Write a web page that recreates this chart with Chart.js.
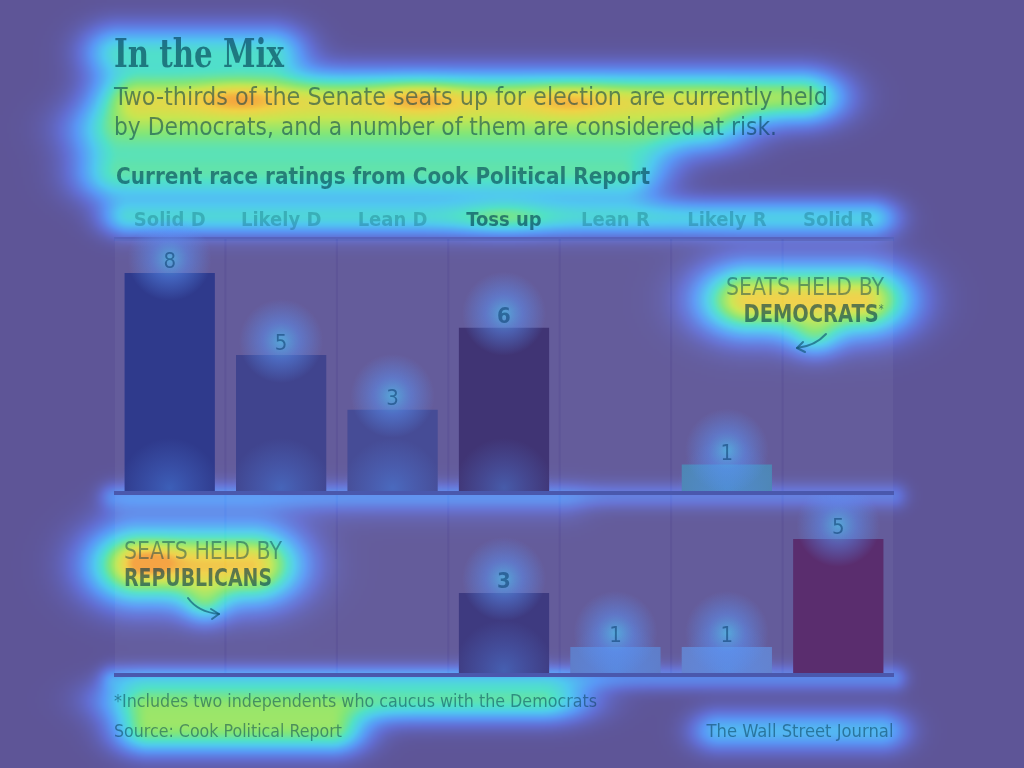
<!DOCTYPE html>
<html>
<head>
<meta charset="utf-8">
<script src="https://cdn.jsdelivr.net/npm/chart.js@4.4.1/dist/chart.umd.min.js"></script>
<style>
  html,body{margin:0;padding:0;background:#5e5597;overflow:hidden;}
  #stage{position:relative;width:1024px;height:768px;}
  #heat{position:absolute;left:0;top:0;z-index:0;}
  .t{position:absolute;white-space:nowrap;line-height:1;z-index:2;
     font-family:"DejaVu Sans Condensed","DejaVu Sans",sans-serif;font-stretch:condensed;
     color:rgba(0,55,75,0.55);transform-origin:left center;}
  .r{transform-origin:right center;}
  canvas.c{position:absolute;z-index:1;}
  svg{position:absolute;left:0;top:0;z-index:2;}
</style>
</head>
<body>
<div id="stage">
  <canvas id="heat" width="1024" height="768"></canvas>

  <div class="t" data-w="170" style="left:114px;top:33px;font-size:40px;font-weight:bold;font-family:'DejaVu Serif Condensed','DejaVu Serif',serif;color:rgba(0,60,80,0.62);">In the Mix</div>
  <div class="t" data-w="714" style="left:114px;top:84px;font-size:25px;">Two-thirds of the Senate seats up for election are currently held</div>
  <div class="t" data-w="663" style="left:114px;top:114px;font-size:25px;">by Democrats, and a number of them are considered at risk.</div>
  <div class="t" data-w="534" style="left:116px;top:165px;font-size:23px;font-weight:bold;color:rgba(0,60,80,0.6);">Current race ratings from Cook Political Report</div>

  <div class="t r" data-w="158" style="right:140px;top:275px;font-size:24px;color:rgba(0,55,75,0.45);">SEATS HELD BY</div>
  <div class="t r" data-w="140" style="right:140px;top:302px;font-size:24px;font-weight:bold;color:rgba(0,55,75,0.6);">DEMOCRATS<span style="font-size:12px;vertical-align:9px;font-weight:normal;">*</span></div>

  <div class="t" data-w="158" style="left:124px;top:539px;font-size:24px;color:rgba(0,55,75,0.45);">SEATS HELD BY</div>
  <div class="t" data-w="148" style="left:124px;top:566px;font-size:24px;font-weight:bold;color:rgba(0,55,75,0.6);">REPUBLICANS</div>

  <div class="t" data-w="483" style="left:114px;top:692px;font-size:18px;color:rgba(0,55,75,0.5);">*Includes two independents who caucus with the Democrats</div>
  <div class="t" data-w="228" style="left:114px;top:722px;font-size:18px;color:rgba(0,55,75,0.5);">Source: Cook Political Report</div>
  <div class="t r" data-w="187" style="right:131px;top:722px;font-size:18px;color:rgba(0,55,75,0.5);">The Wall Street Journal</div>

  <svg width="1024" height="768" viewBox="0 0 1024 768">
    <g fill="none" stroke="rgba(15,85,115,0.65)" stroke-width="2" stroke-linecap="round">
      <path d="M826 334 Q 815 346 797 348"/>
      <path d="M797 348 L 803 342 M797 348 L 805 352"/>
      <path d="M188 598 Q 198 612 219 614"/>
      <path d="M219 614 L 211 609 M219 614 L 212 619"/>
    </g>
  </svg>

  <canvas class="c" id="demChart" width="780" height="299" style="left:114px;top:196px;"></canvas>
  <canvas class="c" id="repChart" width="780" height="182" style="left:114px;top:495px;"></canvas>
</div>

<script>
// ---------------- data ----------------
const categories = ['Solid D', 'Likely D', 'Lean D', 'Toss up', 'Lean R', 'Likely R', 'Solid R'];
const demSeats = [8, 5, 3, 6, 0, 1, 0];
const repSeats = [0, 0, 0, 3, 1, 1, 5];

// ---------------- styles ----------------
const demColors = ['#2f3a8c', '#40448e', '#464c96', '#403474', '#5f7dc8', '#4e86b4', '#5a2d6e'];
const repColors = ['#2f3a8c', '#40448e', '#464c96', '#3e3a80', '#5f7dc8', '#6482cd', '#5a2d6e'];
const tossIndex = 3;
const solidRIndex = 6;

// ---------------- heat background (decoration) ----------------
const glowSpots = [
  // x1, x2, y, sx, sy, w
  [120, 270, 52, 25, 18, 0.47],
  [140, 800, 97, 30, 18, 0.70],
  [240, 240, 97, 30, 12, 0.15],
  [420, 420, 97, 30, 12, 0.15],
  [570, 570, 100, 30, 12, 0.12],
  [120, 700, 128, 35, 18, 0.45],
  [120, 640, 153, 30, 18, 0.20],
  [120, 620, 178, 30, 18, 0.45],
  [130, 870, 218, 20, 13, 0.42],
  [504, 504, 218, 30, 12, 0.15],
  [750, 860, 300, 35, 24, 0.90],
  [815, 815, 338, 18, 14, 0.30],
  [140, 250, 565, 35, 26, 0.92],
  [150, 150, 560, 18, 12, 0.15],
  [205, 205, 605, 16, 14, 0.30],
  [150, 540, 700, 35, 15, 0.55],
  [150, 330, 731, 25, 16, 0.60],
  [720, 880, 731, 20, 14, 0.35],
  [114, 893, 496, 10, 9, 0.16],
  [130, 560, 503, 20, 14, 0.08],
  [114, 893, 678, 10, 9, 0.20]
];
const cmapStops = [
  [0.00, 94, 85, 151], [0.12, 98, 110, 210], [0.25, 90, 150, 245], [0.40, 80, 200, 240],
  [0.52, 80, 225, 200], [0.65, 130, 230, 120], [0.78, 200, 230, 80], [0.90, 240, 210, 70],
  [1.00, 245, 160, 60]
];
function cmap(t) {
  for (let i = 1; i < cmapStops.length; i++) {
    const b = cmapStops[i];
    if (t <= b[0]) {
      const a = cmapStops[i - 1];
      const f = (t - a[0]) / (b[0] - a[0]);
      return [a[1] + (b[1] - a[1]) * f, a[2] + (b[2] - a[2]) * f, a[3] + (b[3] - a[3]) * f];
    }
  }
  const l = cmapStops[cmapStops.length - 1];
  return [l[1], l[2], l[3]];
}
(function drawHeat() {
  const S = 2, W = 512, H = 384;
  const off = document.createElement('canvas');
  off.width = W; off.height = H;
  const octx = off.getContext('2d');
  const img = octx.createImageData(W, H);
  for (let y = 0; y < H; y++) {
    const py = y * S + 1;
    for (let x = 0; x < W; x++) {
      const px = x * S + 1;
      let I = 0;
      for (const s of glowSpots) {
        const dx = px < s[0] ? s[0] - px : (px > s[1] ? px - s[1] : 0);
        const dy = py - s[2];
        const e = (dx * dx) / (2 * s[3] * s[3]) + (dy * dy) / (2 * s[4] * s[4]);
        if (e < 12) I += s[5] * Math.exp(-e);
      }
      const t = Math.min(1, I);
      const c = cmap(t);
      const k = (y * W + x) * 4;
      img.data[k] = c[0]; img.data[k + 1] = c[1]; img.data[k + 2] = c[2]; img.data[k + 3] = 255;
    }
  }
  octx.putImageData(img, 0, 0);
  const h = document.getElementById('heat').getContext('2d');
  h.imageSmoothingEnabled = true;
  h.drawImage(off, 0, 0, 1024, 768);
})();

// ---------------- text fitting ----------------
document.querySelectorAll('[data-w]').forEach(el => {
  const w = +el.dataset.w;
  const r = el.getBoundingClientRect().width;
  if (r > 0) el.style.transform = 'scaleX(' + (w / r) + ')';
});

// ---------------- chart plugin ----------------
function glow(ctx, x, y, r, inner, outer) {
  const g = ctx.createRadialGradient(x, y, 0, x, y, r);
  g.addColorStop(0, inner);
  g.addColorStop(0.45, outer);
  g.addColorStop(1, 'rgba(90,150,250,0)');
  ctx.fillStyle = g;
  ctx.fillRect(x - r, y - r, 2 * r, 2 * r);
}
const decor = {
  id: 'decor',
  beforeDatasetsDraw(chart) {
    const { ctx, chartArea: a, scales: { x } } = chart;
    const step = x.getPixelForValue(1) - x.getPixelForValue(0);
    ctx.save();
    categories.forEach((_, i) => {
      const cx = x.getPixelForValue(i);
      ctx.fillStyle = 'rgba(255,255,255,0.045)';
      ctx.fillRect(cx - step / 2 + 1, a.top, step - 2, a.bottom - a.top);
    });
    ctx.restore();
  },
  afterDatasetsDraw(chart) {
    const { ctx, chartArea: a, scales: { y } } = chart;
    const meta = chart.getDatasetMeta(0);
    const vals = chart.data.datasets[0].data;
    const y0 = y.getPixelForValue(0);
    ctx.save();
    ctx.beginPath();
    ctx.rect(a.left, a.top, a.right - a.left, a.bottom - a.top);
    ctx.clip();
    meta.data.forEach((bar, i) => {
      const v = vals[i];
      if (!v || i === solidRIndex) return;
      glow(ctx, bar.x, y0 - 4, 50, 'rgba(80,150,250,0.4)', 'rgba(85,145,250,0.22)');
    });
    ctx.restore();
    ctx.save();
    meta.data.forEach((bar, i) => {
      const v = vals[i];
      if (!v) return;
      glow(ctx, bar.x, bar.y - 14, 42, 'rgba(80,200,240,0.7)', 'rgba(90,150,250,0.45)');
    });
    meta.data.forEach((bar, i) => {
      const v = vals[i];
      if (!v) return;
      ctx.font = (i === tossIndex ? 'bold ' : '') + '22px "DejaVu Sans Condensed", "DejaVu Sans", sans-serif';
      ctx.fillStyle = 'rgba(10,60,110,0.55)';
      ctx.textAlign = 'center';
      ctx.textBaseline = 'alphabetic';
      ctx.fillText(String(v), bar.x, bar.y - 5);
    });
    ctx.fillStyle = '#4a58ad';
    ctx.fillRect(a.left, y0 - 1, a.right - a.left, 4);
    ctx.restore();
  }
};

function makeChart(id, values, colors, yMax, showX) {
  return new Chart(document.getElementById(id), {
    type: 'bar',
    data: {
      labels: categories,
      datasets: [{
        data: values,
        backgroundColor: colors,
        borderWidth: 0,
        barPercentage: 0.81,
        categoryPercentage: 1.0
      }]
    },
    options: {
      responsive: false,
      animation: false,
      events: [],
      layout: { padding: { left: 0, right: 0, top: 0, bottom: 3 } },
      plugins: { legend: { display: false }, tooltip: { enabled: false } },
      scales: {
        x: {
          display: showX,
          position: 'top',
          grid: { display: false, drawTicks: false },
          border: { display: true, color: '#5763bd', width: 4 },
          afterFit: s => { s.height = showX ? 43 : 0; },
          ticks: {
            padding: 6,
            maxRotation: 0,
            autoSkip: false,
            font: { family: '"DejaVu Sans Condensed", "DejaVu Sans", sans-serif', size: 20, weight: 'bold' },
            color: c => c.index === tossIndex ? 'rgba(0,60,80,0.62)' : 'rgba(0,80,90,0.28)'
          }
        },
        y: { display: false, min: 0, max: yMax }
      }
    },
    plugins: [decor]
  });
}

makeChart('demChart', demSeats, demColors, 9.24, true);
makeChart('repChart', repSeats, repColors, 6.63, false);
</script>
</body>
</html>
